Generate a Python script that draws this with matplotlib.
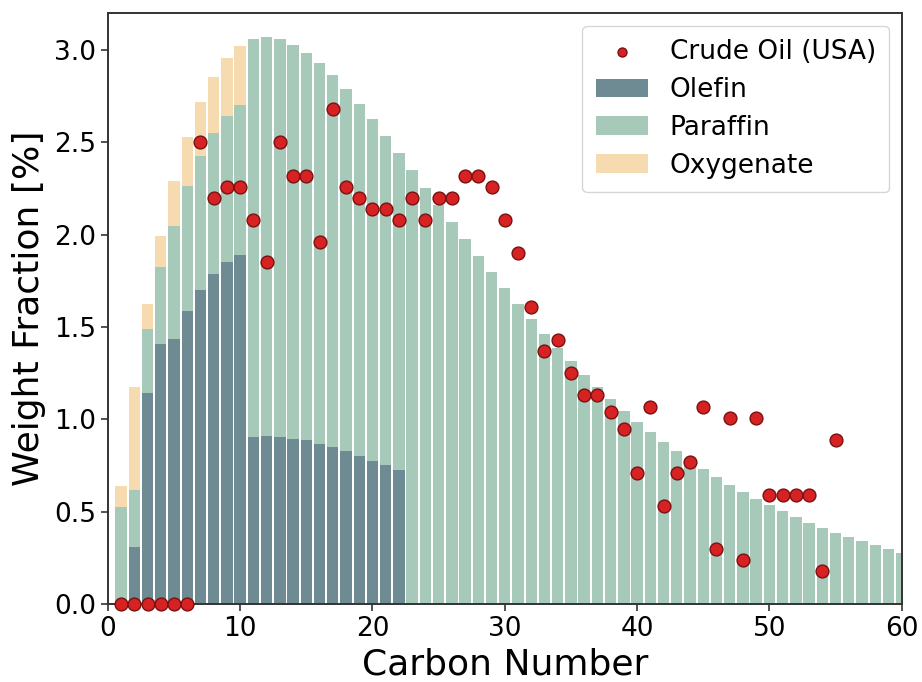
import matplotlib
matplotlib.use("Agg")
import matplotlib.pyplot as plt
import numpy as np

carbon = list(range(1, 61))

olefin = [0.0, 0.31, 1.143, 1.407, 1.435, 1.585, 1.698, 1.788, 1.850, 1.891,
          0.906, 0.908, 0.906, 0.897, 0.887, 0.867, 0.850, 0.829, 0.803, 0.777,
          0.752, 0.724] + [0.0] * 38

total_hc = [0.529, 0.621, 1.488, 1.827, 2.049, 2.261, 2.426, 2.552, 2.642, 2.702,
            3.058, 3.069, 3.058, 3.028, 2.985, 2.931, 2.865, 2.788, 2.707, 2.625,
            2.533, 2.443, 2.349, 2.254, 2.162, 2.068, 1.975, 1.886, 1.796, 1.709,
            1.626, 1.543, 1.464, 1.388, 1.314, 1.242, 1.175, 1.112, 1.047, 0.987,
            0.933, 0.879, 0.828, 0.780, 0.733, 0.689, 0.646, 0.608, 0.570, 0.536,
            0.504, 0.471, 0.442, 0.413, 0.388, 0.363, 0.341, 0.319, 0.298, 0.278]

oxygenate = [0.109, 0.557, 0.135, 0.165, 0.240, 0.270, 0.291, 0.302, 0.313, 0.321] + [0.0] * 50

paraffin = [t - o for t, o in zip(total_hc, olefin)]

crude_x = list(range(1, 56))
crude_y = [0.0, 0.0, 0.0, 0.0, 0.0, 0.0, 2.50, 2.20, 2.26, 2.26,
           2.08, 1.85, 2.50, 2.32, 2.32, 1.96, 2.68, 2.26, 2.20, 2.14,
           2.14, 2.08, 2.20, 2.08, 2.20, 2.20, 2.32, 2.32, 2.26, 2.08,
           1.90, 1.61, 1.37, 1.43, 1.25, 1.13, 1.13, 1.04, 0.95, 0.71,
           1.07, 0.53, 0.71, 0.77, 1.07, 0.30, 1.01, 0.24, 1.01, 0.59,
           0.59, 0.59, 0.59, 0.18, 0.89]

c_olefin = "#6e8a93"
c_paraffin = "#a7c9b9"
c_oxy = "#f6dab0"

fig = plt.figure(figsize=(9.22, 6.82), dpi=100)
ax = fig.add_axes([0.117, 0.114, 0.861, 0.867])

x = np.array(carbon)
w = 0.86
bottom_par = np.array(olefin)
bottom_oxy = bottom_par + np.array(paraffin)
sc = ax.scatter(crude_x, crude_y, s=85, color="#d62222", edgecolor="#7a1010",
                linewidth=1.0, label="Crude Oil (USA)", zorder=3, clip_on=False)
b1 = ax.bar(x, olefin, width=w, color=c_olefin, label="Olefin", zorder=2)
b2 = ax.bar(x, paraffin, width=w, bottom=bottom_par, color=c_paraffin, label="Paraffin", zorder=2)
b3 = ax.bar(x, oxygenate, width=w, bottom=bottom_oxy, color=c_oxy, label="Oxygenate", zorder=2)

ax.set_xlim(0, 60)
ax.set_ylim(0, 3.2)
ax.set_yticks([0.0, 0.5, 1.0, 1.5, 2.0, 2.5, 3.0])
ax.set_xticks([0, 10, 20, 30, 40, 50, 60])
ax.tick_params(labelsize=19, length=5, width=1.2, color="#333333")
for s in ax.spines.values():
    s.set_color("#333333")
    s.set_linewidth(1.4)

ax.set_xlabel("Carbon Number", fontsize=26, labelpad=4)
ax.set_ylabel("Weight Fraction [%]", fontsize=26, labelpad=6)

ax.legend([sc, b1, b2, b3], ["Crude Oil (USA)", "Olefin", "Paraffin", "Oxygenate"],
          loc="upper right", fontsize=19, frameon=True, borderpad=0.5,
          handlelength=2.0, labelspacing=0.45, markerscale=0.7,
          borderaxespad=0, bbox_to_anchor=(0.984, 0.978))

fig.savefig("out.png", dpi=100)
